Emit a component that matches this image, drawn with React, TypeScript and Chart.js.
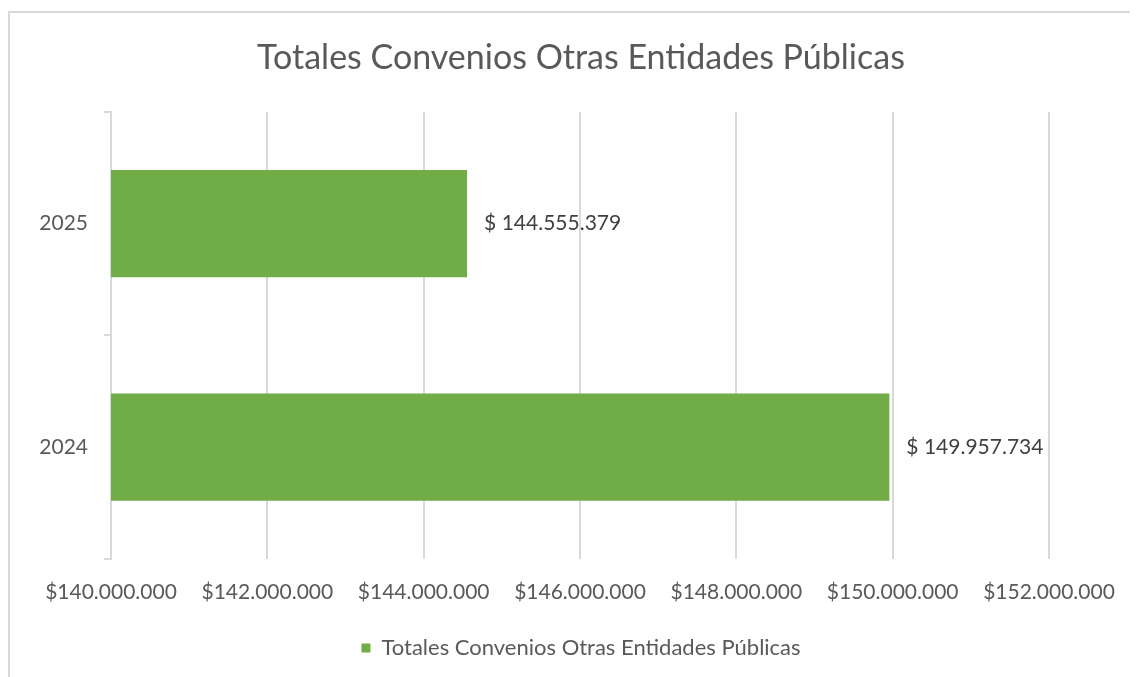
import React, { useEffect, useRef } from "react";
import { Chart, registerables } from "chart.js";

Chart.register(...registerables);

const categories: string[] = ["2025", "2024"];
const seriesName = "Totales Convenios Otras Entidades Públicas";
const values: number[] = [144555379, 149957734];
const axisMin = 140000000;
const axisMax = 152000000;
const axisStep = 2000000;

const FONT = "Lato";

function dots(n: number): string {
  const s = Math.round(n).toString();
  return s.replace(/\B(?=(\d{3})+(?!\d))/g, ".");
}

const labelPlugin = {
  id: "barValueLabels",
  afterDatasetsDraw(chart: any) {
    const ctx = chart.ctx;
    const meta = chart.getDatasetMeta(0);
    ctx.save();
    ctx.font = `21px ${FONT}`;
    ctx.fillStyle = "#404040";
    ctx.textAlign = "left";
    ctx.textBaseline = "middle";
    meta.data.forEach((bar: any, i: number) => {
      const v = chart.data.datasets[0].data[i];
      ctx.fillText("$ " + dots(v), bar.x + 17, bar.y);
    });
    ctx.restore();
  },
};

export default function App() {
  const ref = useRef<HTMLCanvasElement | null>(null);
  useEffect(() => {
    if (!ref.current) return;
    const chart = new Chart(ref.current, {
      type: "bar",
      data: {
        labels: categories,
        datasets: [
          {
            label: seriesName,
            data: values,
            backgroundColor: "#70AD47",
            borderWidth: 0,
            barPercentage: 0.96,
            categoryPercentage: 0.5,
          },
        ],
      },
      options: {
        indexAxis: "y",
        responsive: false,
        animation: false,
        layout: { padding: { left: 12, right: 0, top: 0, bottom: 9 } },
        plugins: {
          title: {
            display: true,
            text: seriesName,
            color: "#595959",
            font: { family: FONT, size: 34, weight: "normal" },
            padding: { top: 25, bottom: 33 },
          },
          legend: {
            position: "bottom",
            labels: {
              color: "#595959",
              font: { family: FONT, size: 22 },
              boxWidth: 9,
              boxHeight: 9,
              padding: 10,
            },
          },
          tooltip: { enabled: false },
        },
        scales: {
          x: {
            type: "linear",
            min: axisMin,
            max: axisMax,
            ticks: {
              stepSize: axisStep,
              color: "#595959",
              font: { family: FONT, size: 21 },
              padding: 21,
              maxRotation: 0,
              callback: (v: any) => "$" + dots(Number(v)),
            },
            grid: { color: "#d9d9d9", lineWidth: 2, drawTicks: false },
            border: { display: false },
            afterFit: (s: any) => {
              s.height = 68;
              s.paddingRight = 91;
            },
          },
          y: {
            ticks: {
              color: "#595959",
              font: { family: FONT, size: 21 },
              padding: 16,
            },
            grid: {
              drawOnChartArea: false,
              drawTicks: true,
              tickLength: 7,
              color: "#d9d9d9",
              lineWidth: 2,
            },
            border: { display: true, color: "#d9d9d9", width: 2 },
            afterFit: (s: any) => {
              s.width = 89;
            },
          },
        },
      },
      plugins: [labelPlugin],
    });
    return () => chart.destroy();
  }, []);
  return (
    <div
      style={{
        marginTop: 3,
        width: 1135,
        height: 670,
        border: "2px solid #d9d9d9",
        boxSizing: "border-box",
        background: "#fff",
      }}
    >
      <canvas ref={ref} width={1130} height={665} style={{ display: "block" }} />
    </div>
  );
}
